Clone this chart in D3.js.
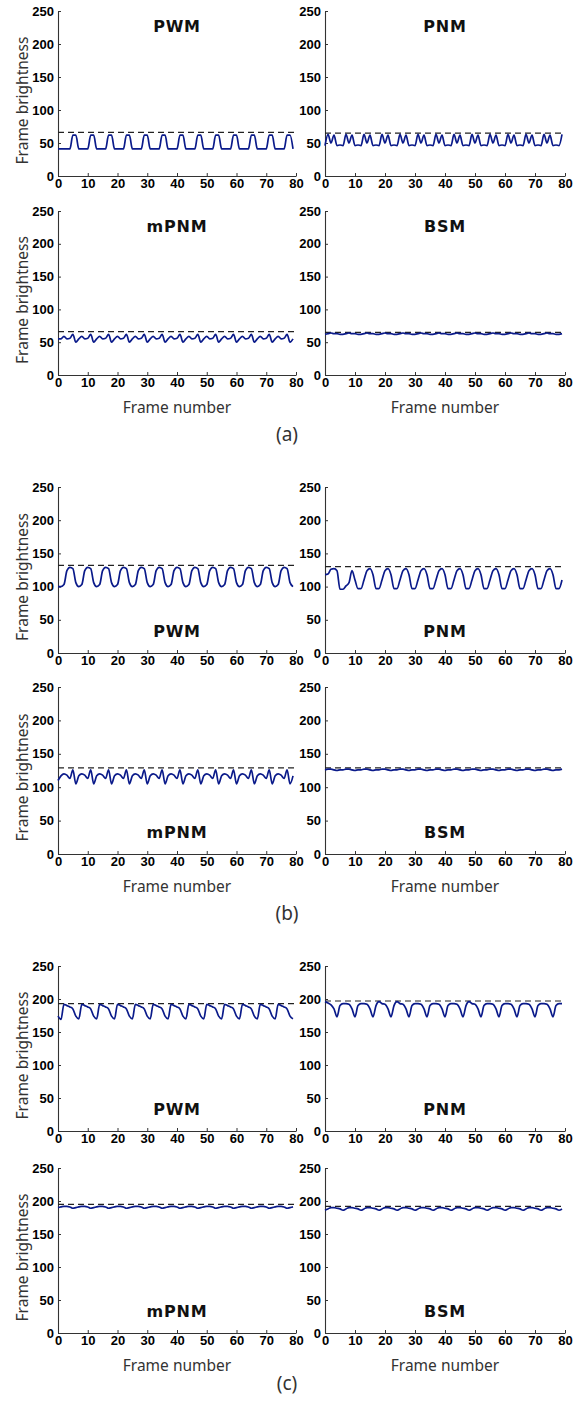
<!DOCTYPE html>
<html>
<head>
<meta charset="utf-8">
<style>
  body { margin: 0; background: white; }
  svg text { font-family: "Liberation Sans", Arial, sans-serif; }
</style>
</head>
<body>
<svg id="chart"></svg>
<script src="https://d3js.org/d3.v7.min.js"></script>
<script>

var frameTicks = [0, 10, 20, 30, 40, 50, 60, 70, 80];
var brightTicks = [0, 50, 100, 150, 200, 250];
var methods = ["PWM", "PNM", "mPNM", "BSM"];
var groups = ["(a)", "(b)", "(c)"];

// frame brightness, frames 0..79
var a_PWM = [41,41,41,41,41,62,62,41,41,41, 41,62,62,41,41,41,41,62,62,41,
             41,41,41,62,62,41,41,41,41,62, 62,41,41,41,41,62,62,41,41,41,
             41,62,62,41,41,41,41,62,62,41, 41,41,41,62,62,41,41,41,41,62,
             62,41,41,41,41,62,62,41,41,41, 41,62,62,41,41,41,41,62,62,41];
var a_PNM = [46,63,50,62,46,47,46,63,50,62, 46,47,46,63,50,62,46,47,46,63,
             50,62,46,47,46,63,50,62,46,47, 46,63,50,62,46,47,46,63,50,62,
             46,47,46,63,50,62,46,47,46,63, 50,62,46,47,46,63,50,62,46,47,
             46,63,50,62,46,47,46,63,50,62, 46,47,46,63,50,62,46,47,46,63];
var a_mPNM = [55,55,59,55,56,62,50,55,59,55, 56,62,50,55,59,55,56,62,50,55,
              59,55,56,62,50,55,59,55,56,62, 50,55,59,55,56,62,50,55,59,55,
              56,62,50,55,59,55,56,62,50,55, 59,55,56,62,50,55,59,55,56,62,
              50,55,59,55,56,62,50,55,59,55, 56,62,50,55,59,55,56,62,50,55];
var a_BSM = [62,63,64,63,63,62,62,63,64,63, 63,62,62,63,64,63,63,62,62,63,
             64,63,63,62,62,63,64,63,63,62, 62,63,64,63,63,62,62,63,64,63,
             63,62,62,63,64,63,63,62,62,63, 64,63,63,62,62,63,64,63,63,62,
             62,63,64,63,63,62,62,63,64,63, 63,62,62,63,64,63,63,62,62,63];

var b_PWM = [100,100,103,124,129,127,106,100,103,124, 129,127,106,100,103,124,129,127,106,100,
             103,124,129,127,106,100,103,124,129,127, 106,100,103,124,129,127,106,100,103,124,
             129,127,106,100,103,124,129,127,106,100, 103,124,129,127,106,100,103,124,129,127,
             106,100,103,124,129,127,106,100,103,124, 129,127,106,100,103,124,129,127,106,100];
var b_PNM = [118,119,126,127,124,96,96,101,106,124, 110,97,97,110,124,127,118,97,97,110,
             124,127,118,97,97,110,124,127,118,97, 97,110,124,127,118,97,97,110,124,127,
             118,97,97,110,124,127,118,97,97,110, 124,127,118,97,97,110,124,127,118,97,
             97,110,124,127,118,97,97,110,124,127, 118,97,97,110,124,127,118,97,97,110];
var b_mPNM = [110,117,120,118,113,126,105,117,120,118, 113,126,105,117,120,118,113,126,105,117,
              120,118,113,126,105,117,120,118,113,126, 105,117,120,118,113,126,105,117,120,118,
              113,126,105,117,120,118,113,126,105,117, 120,118,113,126,105,117,120,118,113,126,
              105,117,120,118,113,126,105,117,120,118, 113,126,105,117,120,118,113,126,105,117];
var b_BSM = [126,127,127,126,125,126,126,127,127,126, 125,126,126,127,127,126,125,126,126,127,
             127,126,125,126,126,127,127,126,125,126, 126,127,127,126,125,126,126,127,127,126,
             125,126,126,127,127,126,125,126,126,127, 127,126,125,126,126,127,127,126,125,126,
             126,127,127,126,125,126,126,127,127,126, 125,126,126,127,127,126,125,126,126,127];

var c_PWM = [174,169,192,190,188,185,174,170,192,190, 188,185,174,170,192,190,188,185,174,170,
             192,190,188,185,174,170,192,190,188,185, 174,170,192,190,188,185,174,170,192,190,
             188,185,174,170,192,190,188,185,174,170, 192,190,188,185,174,170,192,190,188,185,
             174,170,192,190,188,185,174,170,192,190, 188,185,174,170,192,190,188,185,174,170];
var c_PNM = [196,194,191,185,173,190,193,193,192,185, 173,190,193,193,192,185,173,190,196,193,
             192,185,173,190,196,193,192,185,173,190, 193,193,192,185,173,190,193,193,192,185,
             173,190,193,193,192,185,173,190,196,193, 192,185,173,190,193,193,192,185,173,190,
             193,193,192,185,173,190,193,193,192,185, 173,190,193,193,192,185,173,190,193,193];
var c_mPNM = [190,191,192,192,191,189,190,191,192,192, 191,189,190,191,192,192,191,189,190,191,
              192,192,191,189,190,191,192,192,191,189, 190,191,192,192,191,189,190,191,192,192,
              191,189,190,191,192,192,191,189,190,191, 192,192,191,189,190,191,192,192,191,189,
              190,191,192,192,191,189,190,191,192,192, 191,189,190,191,192,192,191,189,190,191];
var c_BSM = [186,188,190,190,189,188,186,188,190,190, 189,188,186,188,190,190,189,188,186,188,
             190,190,189,188,186,188,190,190,189,188, 186,188,190,190,189,188,186,188,190,190,
             189,188,186,188,190,190,189,188,186,188, 190,190,189,188,186,188,190,190,189,188,
             186,188,190,190,189,188,186,188,190,190, 189,188,186,188,190,190,189,188,186,188];

// target brightness (dashed line), per method
var refA = [66, 65, 66, 65];
var refB = [132, 130, 129, 129];
var refC = [193, 197, 195, 192];

var seriesByGroup = [
  [a_PWM, a_PNM, a_mPNM, a_BSM],
  [b_PWM, b_PNM, b_mPNM, b_BSM],
  [c_PWM, c_PNM, c_mPNM, c_BSM]
];
var refByGroup = [refA, refB, refC];

// layout
var rowBox = [[11, 176], [211, 375], [487, 653], [687, 854], [966, 1131], [1168, 1333]];
var colBox = [[58, 296], [325, 565]];
var groupLabelY = [441, 920, 1390];

var svg = d3.select("#chart")
    .attr("width", 579)
    .attr("height", 1405)
    .style("display", "block");

var line = d3.line().curve(d3.curveMonotoneX);

groups.forEach(function(gName, gi) {
  methods.forEach(function(m, mi) {
    var row = gi * 2 + Math.floor(mi / 2);
    var col = mi % 2;
    var top = rowBox[row][0], bottom = rowBox[row][1];
    var left = colBox[col][0], right = colBox[col][1];

    var x = d3.scaleLinear().domain([0, 80]).range([left, right]);
    var y = d3.scaleLinear().domain([0, 250]).range([bottom, top]);

    var g = svg.append("g");

    var xAxis = g.append("g")
        .attr("transform", "translate(0," + bottom + ")")
        .call(d3.axisBottom(x).tickValues(frameTicks).tickSizeInner(-3).tickSizeOuter(0).tickPadding(3));
    var yAxis = g.append("g")
        .attr("transform", "translate(" + left + ",0)")
        .call(d3.axisLeft(y).tickValues(brightTicks).tickSizeInner(-3).tickSizeOuter(0).tickPadding(4));

    [xAxis, yAxis].forEach(function(ax) {
      ax.select(".domain").attr("stroke", "#333").attr("stroke-width", 1.1);
      ax.selectAll(".tick line").attr("stroke", "#333");
      ax.selectAll("text")
        .attr("font-family", "'Liberation Sans', Arial, sans-serif")
        .attr("font-size", 13)
        .attr("font-weight", "bold")
        .attr("fill", "#000");
    });

    var ref = refByGroup[gi][mi];
    g.append("path")
      .attr("d", d3.line()([[x(0), y(ref)], [x(80), y(ref)]]))
      .attr("fill", "none")
      .attr("stroke", "#222")
      .attr("stroke-width", 1.2)
      .attr("stroke-dasharray", "6,4");

    var vals = seriesByGroup[gi][mi];
    g.append("path")
      .attr("d", line(vals.map(function(v, i) { return [x(i), y(v)]; })))
      .attr("fill", "none")
      .attr("stroke", "#0a1a8a")
      .attr("stroke-width", 1.7);

    g.append("text")
      .attr("x", (left + right) / 2)
      .attr("y", gi == 0 ? top + 21 : bottom - 16)
      .attr("text-anchor", "middle")
      .style("font-family", "'DejaVu Sans', sans-serif")
      .attr("font-size", 16)
      .attr("font-weight", "bold")
      .attr("letter-spacing", 0.8)
      .attr("fill", "#111")
      .text(m);

    if (col == 0) {
      g.append("text")
        .attr("transform", "translate(28," + ((top + bottom) / 2 + 7) + ") rotate(-90)")
        .attr("text-anchor", "middle")
        .style("font-family", "'Noto Sans', sans-serif")
        .attr("font-size", 15.5)
        .attr("fill", "#333")
        .text("Frame brightness");
    }
    if (row % 2 == 1) {
      g.append("text")
        .attr("x", (left + right) / 2)
        .attr("y", bottom + 38)
        .attr("text-anchor", "middle")
        .style("font-family", "'Noto Sans', sans-serif")
        .attr("font-size", 15.5)
        .attr("fill", "#333")
        .text("Frame number");
    }
  });

  svg.append("text")
    .attr("x", 287)
    .attr("y", groupLabelY[gi])
    .attr("text-anchor", "middle")
    .style("font-family", "'Noto Sans', sans-serif")
    .attr("font-size", 19)
    .attr("fill", "#333")
    .text(gName);
});
</script>
</body>
</html>
